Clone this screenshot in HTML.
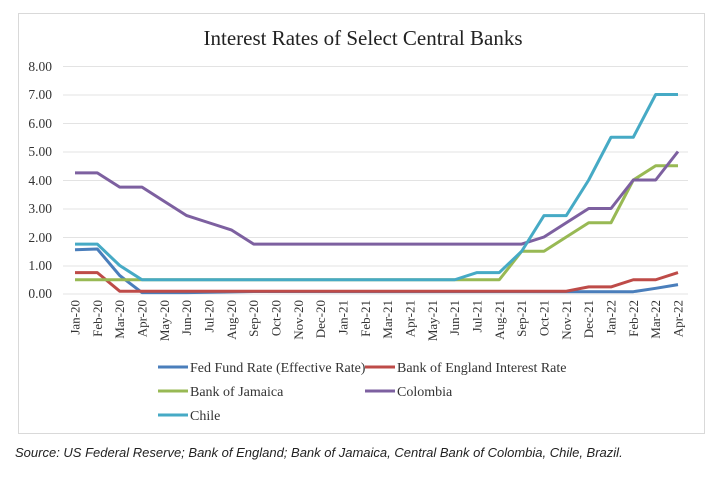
<!DOCTYPE html>
<html><head><meta charset="utf-8"><style>
body{margin:0;background:#fff;}
svg{display:block;}
</style></head><body>
<svg width="726" height="478" xmlns="http://www.w3.org/2000/svg" font-family="Liberation Serif, serif">
<rect x="18.5" y="13.5" width="686" height="420" fill="#fff" stroke="#d9d9d9"/>
<text x="363" y="45" font-size="21" text-anchor="middle" fill="#222">Interest Rates of Select Central Banks</text>
<g stroke="#e3e3e3" stroke-width="1">
<line x1="63" x2="688" y1="66.5" y2="66.5"/><line x1="63" x2="688" y1="95" y2="95"/><line x1="63" x2="688" y1="123.5" y2="123.5"/><line x1="63" x2="688" y1="152" y2="152"/><line x1="63" x2="688" y1="180.5" y2="180.5"/><line x1="63" x2="688" y1="209" y2="209"/><line x1="63" x2="688" y1="237.5" y2="237.5"/><line x1="63" x2="688" y1="266" y2="266"/><line x1="63" x2="688" y1="294" y2="294"/>
</g>
<g font-size="13.5" fill="#333" text-anchor="end">
<text x="52" y="71">8.00</text><text x="52" y="99">7.00</text><text x="52" y="128">6.00</text><text x="52" y="156">5.00</text><text x="52" y="185">4.00</text><text x="52" y="213">3.00</text><text x="52" y="242">2.00</text><text x="52" y="270">1.00</text><text x="52" y="298">0.00</text>
</g>
<g font-size="13" fill="#333" text-anchor="end">
<text transform="translate(79.5,300) rotate(-90)">Jan-20</text>
<text transform="translate(101.8,300) rotate(-90)">Feb-20</text>
<text transform="translate(124.2,300) rotate(-90)">Mar-20</text>
<text transform="translate(146.5,300) rotate(-90)">Apr-20</text>
<text transform="translate(168.8,300) rotate(-90)">May-20</text>
<text transform="translate(191.2,300) rotate(-90)">Jun-20</text>
<text transform="translate(213.5,300) rotate(-90)">Jul-20</text>
<text transform="translate(235.8,300) rotate(-90)">Aug-20</text>
<text transform="translate(258.2,300) rotate(-90)">Sep-20</text>
<text transform="translate(280.5,300) rotate(-90)">Oct-20</text>
<text transform="translate(302.8,300) rotate(-90)">Nov-20</text>
<text transform="translate(325.2,300) rotate(-90)">Dec-20</text>
<text transform="translate(347.5,300) rotate(-90)">Jan-21</text>
<text transform="translate(369.8,300) rotate(-90)">Feb-21</text>
<text transform="translate(392.2,300) rotate(-90)">Mar-21</text>
<text transform="translate(414.5,300) rotate(-90)">Apr-21</text>
<text transform="translate(436.8,300) rotate(-90)">May-21</text>
<text transform="translate(459.2,300) rotate(-90)">Jun-21</text>
<text transform="translate(481.5,300) rotate(-90)">Jul-21</text>
<text transform="translate(503.8,300) rotate(-90)">Aug-21</text>
<text transform="translate(526.2,300) rotate(-90)">Sep-21</text>
<text transform="translate(548.5,300) rotate(-90)">Oct-21</text>
<text transform="translate(570.8,300) rotate(-90)">Nov-21</text>
<text transform="translate(593.2,300) rotate(-90)">Dec-21</text>
<text transform="translate(615.5,300) rotate(-90)">Jan-22</text>
<text transform="translate(637.8,300) rotate(-90)">Feb-22</text>
<text transform="translate(660.2,300) rotate(-90)">Mar-22</text>
<text transform="translate(682.5,300) rotate(-90)">Apr-22</text>
</g>
<g fill="none" stroke-width="3" stroke-linejoin="round">
<polyline stroke="#4A7EBB" points="75,249.8 97.3,249 119.7,275.5 142,292.6 186.7,292.6 253.7,291.5 633.3,291.7 655.7,288.3 678,284.6"/>
<polyline stroke="#BE4B48" points="75,272.6 97.3,272.6 119.7,291.2 566.3,291.2 588.7,286.9 611,286.9 633.3,279.75 655.7,279.75 678,272.6"/>
<polyline stroke="#98B954" points="75,279.75 499.3,279.75 521.7,251.25 544,251.25 566.3,237 588.7,222.75 611,222.75 633.3,180 655.7,165.75 678,165.75"/>
<polyline stroke="#7D60A0" points="75,172.9 97.3,172.9 119.7,187.1 142,187.1 164.3,201.4 186.7,215.6 209,222.75 231.3,229.9 253.7,244.1 521.7,244.1 544,237 566.3,222.75 588.7,208.5 611,208.5 633.3,180 655.7,180 678,151.5"/>
<polyline stroke="#46AAC5" points="75,244.1 97.3,244.1 119.7,265.5 142,279.75 454.7,279.75 477,272.6 499.3,272.6 521.7,251.25 544,215.6 566.3,215.6 588.7,180 611,137.25 633.3,137.25 655.7,94.5 678,94.5"/>
</g>
<g stroke-width="3">
<line x1="158" x2="188" y1="367" y2="367" stroke="#4A7EBB"/>
<line x1="365" x2="395" y1="367" y2="367" stroke="#BE4B48"/>
<line x1="158" x2="188" y1="391" y2="391" stroke="#98B954"/>
<line x1="365" x2="395" y1="391" y2="391" stroke="#7D60A0"/>
<line x1="158" x2="188" y1="415" y2="415" stroke="#46AAC5"/>
</g>
<g font-size="14" fill="#333">
<text x="190" y="372">Fed Fund Rate (Effective Rate)</text>
<text x="397" y="372">Bank of England Interest Rate</text>
<text x="190" y="396">Bank of Jamaica</text>
<text x="397" y="396">Colombia</text>
<text x="190" y="420">Chile</text>
</g>
<text x="15" y="457" font-family="Liberation Sans, sans-serif" font-style="italic" font-size="13" fill="#222">Source: US Federal Reserve; Bank of England; Bank of Jamaica, Central Bank of Colombia, Chile, Brazil.</text>
</svg>
</body></html>
